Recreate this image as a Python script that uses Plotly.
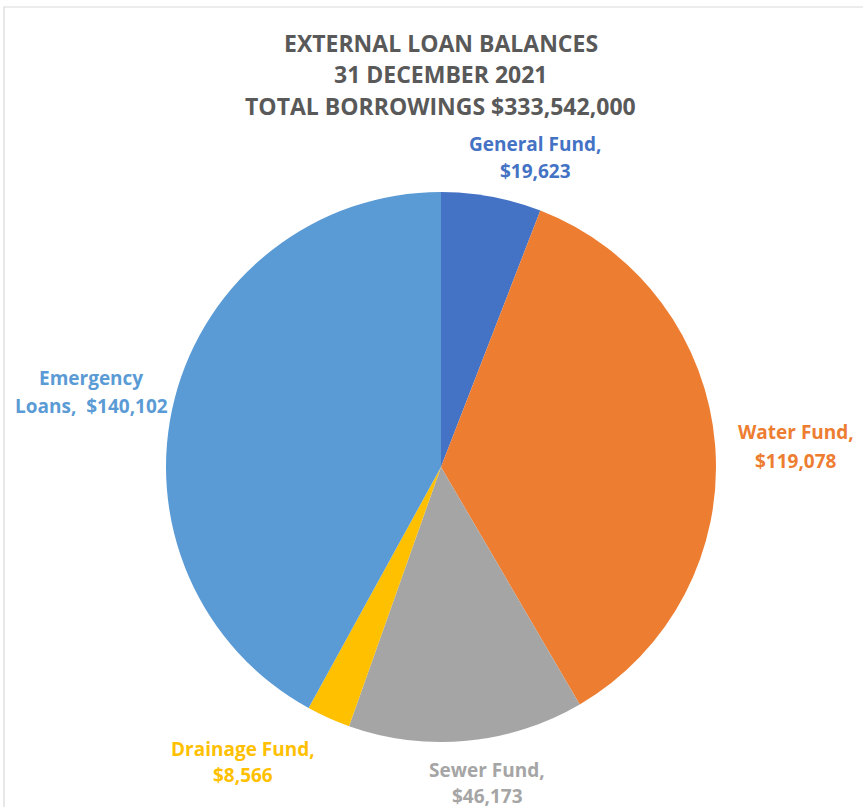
import plotly.graph_objects as go

W, H = 863, 807

categories = ["General Fund", "Water Fund", "Sewer Fund", "Drainage Fund", "Emergency Loans"]
values = [19623, 119078, 46173, 8566, 140102]
colors = ["#4472C4", "#ED7D31", "#A5A5A5", "#FFC000", "#5B9BD5"]
label_lines = [["General Fund,", "$19,623"], ["Water Fund,", "$119,078"], ["Sewer Fund,", "$46,173"],
               ["Drainage Fund,", "$8,566"], ["Emergency", "Loans,  $140,102"]]
label_px = [(535, 144, 171), (796, 432, 461), (487, 770, 796), (243, 749, 775), (91, 378, 406)]
title_lines = ["EXTERNAL LOAN BALANCES", "31 DECEMBER 2021", "TOTAL BORROWINGS $333,542,000"]
title_y = [43, 74, 106]

FONT = "Open Sans"

cx, cy, r = 441, 467, 275

fig = go.Figure(go.Pie(
    labels=categories, values=values, sort=False, direction="clockwise", rotation=0,
    marker=dict(colors=colors, line=dict(width=0)),
    textinfo="none", hoverinfo="label+value", showlegend=False,
    domain=dict(x=[(cx - r) / W, (cx + r) / W], y=[1 - (cy + r) / H, 1 - (cy - r) / H]),
))

ann = []
for lines, (x, y1, y2), c in zip(label_lines, label_px, colors):
    for t, y in zip(lines, (y1, y2)):
        ann.append(dict(x=x / W, y=1 - y / H, xref="paper", yref="paper", text="<b>" + t + "</b>",
                        showarrow=False, xanchor="center", yanchor="middle", align="center",
                        font=dict(family=FONT, size=19, color=c)))

for t, y in zip(title_lines, title_y):
    ann.append(dict(x=441 / W, y=1 - y / H, xref="paper", yref="paper",
                    text="<b>" + t + "</b>", showarrow=False,
                    xanchor="center", yanchor="middle", align="center",
                    font=dict(family=FONT, size=23, color="#595959")))

fig.update_layout(
    width=W, height=H, margin=dict(l=0, r=0, t=0, b=0),
    paper_bgcolor="white", plot_bgcolor="white",
    annotations=ann,
    shapes=[dict(type="rect", xref="paper", yref="paper", x0=4 / W, x1=1.02, y0=-0.02, y1=1 - 7 / H,
                 line=dict(color="#D9D9D9", width=1.2), fillcolor="rgba(0,0,0,0)")],
)

fig.write_html("out.html")
